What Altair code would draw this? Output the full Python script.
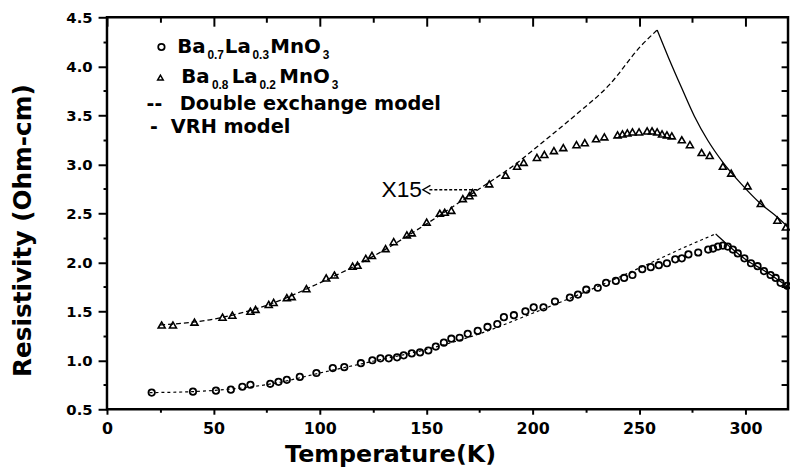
import altair as alt
import pandas as pd

# ---- measured data: Ba0.7La0.3MnO3 (circles) ----
circ_T = [21, 40.4, 51.2, 58.2, 63.6, 67.4, 76.7, 80.6, 84.5, 90.6, 98.4, 106.1, 111.5,
          119.3, 124.7, 128.5, 132.4, 136.3, 139.4, 143.2, 147.1, 151.0, 154.5, 158.3,
          161.8, 165.7, 169.5, 174.2, 178.8, 183.4, 186.5, 191.2, 196.6, 200.5, 205.1,
          210.5, 217.5, 221.3, 225.2, 230.6, 234.5, 239.1, 243.0, 246.9, 251.5, 255.5,
          259.3, 263.1, 267.0, 270.1, 273.2, 277.8, 282.5, 284.8, 287.1, 289.4, 291.7,
          294.1, 296.4, 299.5, 302.6, 305.7, 308.7, 311.8, 314.2, 316.5, 319.6]
circ_R = [0.67, 0.68, 0.69, 0.70, 0.73, 0.75, 0.76, 0.78, 0.80, 0.83, 0.87, 0.92, 0.93,
          0.97, 1.00, 1.02, 1.02, 1.03, 1.05, 1.07, 1.08, 1.10, 1.14, 1.18,
          1.22, 1.23, 1.27, 1.30, 1.34, 1.37, 1.44, 1.46, 1.50, 1.54, 1.54,
          1.60, 1.64, 1.67, 1.72, 1.74, 1.79, 1.81, 1.84, 1.87, 1.93, 1.95,
          1.97, 1.99, 2.03, 2.04, 2.08, 2.10, 2.13, 2.14, 2.16, 2.17, 2.16,
          2.13, 2.09, 2.04, 1.99, 1.96, 1.91, 1.87, 1.84, 1.79, 1.76]

# ---- measured data: Ba0.8La0.2MnO3 (triangles) ----
tri_T = [25.7, 31.0, 41.1, 54.3, 58.9, 67.4, 69.8, 76.0, 78.3, 84.5, 86.8, 93.7, 103.0,
         106.9, 115.4, 117.7, 121.6, 124.5, 130.9, 134.7, 140.9, 143.2, 150.2, 156.4,
         158.7, 161.8, 167.2, 170.3, 171.8, 179.6, 187.3, 192.7, 195.8, 202.0, 205.5,
         210.0, 214.4, 220.6, 224.5, 229.8, 233.7, 239.9, 242.2, 244.5, 246.9, 250.0,
         253.8, 256.1, 258.5, 260.8, 263.1, 265.4, 270.1, 273.9, 279.4, 283.2, 289.4,
         293.3, 301.0, 307.2, 315.0, 319.0]
tri_R = [1.36, 1.36, 1.39, 1.44, 1.46, 1.50, 1.52, 1.57, 1.59, 1.64, 1.65, 1.73, 1.84,
         1.87, 1.96, 1.97, 2.04, 2.07, 2.14, 2.21, 2.28, 2.30, 2.41, 2.50,
         2.51, 2.53, 2.65, 2.68, 2.71, 2.80, 2.89, 2.98, 3.02, 3.07, 3.10,
         3.14, 3.17, 3.20, 3.22, 3.26, 3.28, 3.30, 3.31, 3.32, 3.33, 3.33,
         3.34, 3.34, 3.33, 3.31, 3.30, 3.29, 3.25, 3.20, 3.12, 3.09, 2.98,
         2.91, 2.78, 2.60, 2.43, 2.36]

# ---- model curves ----
de_tri_T = [25, 50, 75, 100, 125, 150, 175, 190, 205, 220, 236, 251, 258.5]
de_tri_R = [1.36, 1.42, 1.56, 1.79, 2.06, 2.39, 2.75, 2.97, 3.23, 3.50, 3.81, 4.21, 4.37]
vrh_tri_T = [258.5, 264, 270, 276, 282.4, 289.4, 298, 307, 315, 320]
vrh_tri_R = [4.37, 4.08, 3.78, 3.49, 3.24, 3.02, 2.80, 2.60, 2.46, 2.36]
de_circ_T = [20, 40, 60, 80, 100, 125, 150, 175, 200, 225, 250, 270, 286]
de_circ_R = [0.67, 0.68, 0.71, 0.77, 0.87, 0.99, 1.11, 1.27, 1.48, 1.70, 1.94, 2.14, 2.29]
vrh_circ_T = [286, 289, 293, 297, 302, 307, 312, 316, 320]
vrh_circ_R = [2.29, 2.23, 2.15, 2.08, 2.00, 1.94, 1.87, 1.81, 1.75]

# ---- annotation (X15 arrow) ----
arrow_T = [151.5, 174.5]
arrow_R = [2.74, 2.74]
head_T = [150.2]
head_R = [2.74]
note_T = [148.0]
note_R = [2.665]
note_text = "X15"

# ---- ticks ----
x_major = [0, 50, 100, 150, 200, 250, 300]
x_minor = [25, 75, 125, 175, 225, 275]
y_major = [0.5, 1.0, 1.5, 2.0, 2.5, 3.0, 3.5, 4.0, 4.5]
y_minor = [0.75, 1.25, 1.75, 2.25, 2.75, 3.25, 3.75, 4.25]
y_right = [0.75, 1.0, 1.25, 1.5, 1.75, 2.0, 2.25, 2.5, 2.75, 3.0, 3.25, 3.5, 3.75, 4.0, 4.25]

x_title = "Temperature(K)"
y_title = "Resistivity (Ohm-cm)"

xs = alt.Scale(domain=[0, 320], nice=False, zero=False)
ys = alt.Scale(domain=[0.5, 4.5], nice=False, zero=False)

BF = "DejaVu Sans"


def tick_axis(orient, values, size, offset=0):
    return alt.Axis(orient=orient, values=values, tickSize=size, tickWidth=2,
                    tickColor="black", domain=False, grid=False, labels=False,
                    offset=offset, title=None)


ax_bottom = alt.Axis(orient="bottom", values=x_major, tickSize=5, tickWidth=2,
                     tickColor="black", domain=False, grid=False,
                     labelFont=BF, labelFontWeight="bold", labelFontSize=16,
                     labelColor="black", labelPadding=6, labelFlush=False,
                     labelOverlap=False,
                     title=x_title, titleFont=BF, titleFontWeight="bold",
                     titleFontSize=24, titleColor="black", titleX=286, titleY=53,
                     titleAlign="center", titleBaseline="alphabetic")
ax_left = alt.Axis(orient="left", values=y_major, format=".1f", tickSize=9,
                   tickWidth=2, tickColor="black", domain=False, grid=False,
                   labelFont=BF, labelFontWeight="bold", labelFontSize=15,
                   labelColor="black", labelPadding=6, labelFlush=False,
                   labelOverlap=False,
                   title=y_title, titleFont=BF, titleFontWeight="bold",
                   titleFontSize=25, titleColor="black", titleX=-85, titleY=215,
                   titleAngle=270, titleAlign="center", titleBaseline="middle")

circ_df = pd.DataFrame({"T": circ_T, "R": circ_R})
tri_df = pd.DataFrame({"T": tri_T, "R": tri_R})
de_tri_df = pd.DataFrame({"T": de_tri_T, "R": de_tri_R})
de_circ_df = pd.DataFrame({"T": de_circ_T, "R": de_circ_R})
vrh_df = pd.DataFrame({"T": vrh_tri_T + vrh_circ_T, "R": vrh_tri_R + vrh_circ_R,
                       "s": ["tri"] * len(vrh_tri_T) + ["circ"] * len(vrh_circ_T)})
arrow_df = pd.DataFrame({"T": arrow_T, "R": arrow_R})
head_df = pd.DataFrame({"T": head_T, "R": head_R})
note_df = pd.DataFrame({"T": note_T, "R": note_R})

de_tri = alt.Chart(de_tri_df).mark_line(color="black", strokeWidth=1.3, strokeDash=[5, 3],
                                         interpolate="monotone").encode(
    x=alt.X("T:Q", scale=xs, axis=tick_axis("top", x_major, 9, -9)),
    y=alt.Y("R:Q", scale=ys, axis=tick_axis("right", y_right, 7, -7)))
de_circ = alt.Chart(de_circ_df).mark_line(color="black", strokeWidth=1.2, strokeDash=[3, 3],
                                           interpolate="monotone").encode(
    x=alt.X("T:Q", scale=xs, axis=tick_axis("top", x_minor, 5, -5)),
    y=alt.Y("R:Q", scale=ys, axis=None))
vrh = alt.Chart(vrh_df).mark_line(color="black", strokeWidth=1.3,
                                  interpolate="monotone").encode(
    x=alt.X("T:Q", scale=xs, axis=None),
    y=alt.Y("R:Q", scale=ys, axis=None),
    detail="s:N")
circ = alt.Chart(circ_df).mark_point(shape="circle", filled=False, size=42, strokeWidth=1.8,
                                     color="black", opacity=1).encode(
    x=alt.X("T:Q", scale=xs, axis=ax_bottom),
    y=alt.Y("R:Q", scale=ys, axis=ax_left))
tri = alt.Chart(tri_df).mark_point(shape="triangle-up", filled=False, size=50,
                                   strokeWidth=1.6, color="black", opacity=1).encode(
    x=alt.X("T:Q", scale=xs, axis=tick_axis("bottom", x_minor, 3)),
    y=alt.Y("R:Q", scale=ys, axis=tick_axis("left", y_minor, 4)))
arrow = alt.Chart(arrow_df).mark_line(color="black", strokeWidth=1.3,
                                      strokeDash=[3, 2]).encode(
    x=alt.X("T:Q", scale=xs, axis=None), y=alt.Y("R:Q", scale=ys, axis=None))
head = alt.Chart(head_df).mark_point(shape="M0.85,-1L-0.85,0L0.85,1", filled=False, size=81,
                                     strokeWidth=1.4, color="black", opacity=1).encode(
    x=alt.X("T:Q", scale=xs, axis=None), y=alt.Y("R:Q", scale=ys, axis=None))
note = alt.Chart(note_df).mark_text(text=note_text, align="right", baseline="alphabetic",
                                    font="Liberation Sans", fontSize=23,
                                    color="black").encode(
    x=alt.X("T:Q", scale=xs, axis=None), y=alt.Y("R:Q", scale=ys, axis=None))

dummy = pd.DataFrame({"a": [1]})


def txt(s, x, y, size=20, font=BF):
    return alt.Chart(dummy).mark_text(text=s, align="left", baseline="alphabetic",
                                      font=font, fontSize=size, fontWeight="bold",
                                      color="black").encode(
        x=alt.value(x), y=alt.value(y))


def sub(s, x, y):
    return txt(s, x, y, size=12, font="Liberation Sans")


legend = [
    alt.Chart(dummy).mark_point(shape="circle", filled=False, size=42, strokeWidth=1.8,
                                color="black", opacity=1).encode(
        x=alt.value(55), y=alt.value(30)),
    txt("Ba", 71, 35.7), sub("0.7", 101.5, 42.3), txt("La", 119, 35.7),
    sub("0.3", 147, 42.3), txt("MnO", 165, 35.7), sub("3", 218, 42.3),
    alt.Chart(dummy).mark_point(shape="triangle-up", filled=False, size=32, strokeWidth=1.5,
                                color="black", opacity=1).encode(
        x=alt.value(54), y=alt.value(61)),
    txt("Ba", 75, 66.7), sub("0.8", 106, 72.3), txt("La", 126, 66.7),
    sub("0.2", 154, 72.3), txt("MnO", 174, 66.7), sub("3", 227, 72.3),
    txt("--", 40, 94, size=19), txt("Double exchange model", 73.5, 94, size=19.5),
    txt("-", 43.5, 116.5, size=19), txt("VRH model", 64.5, 116.5, size=19.5),
]

chart = alt.layer(de_tri, de_circ, vrh, arrow, head, note, circ, tri, *legend).resolve_axis(
    x="independent", y="independent"
).properties(
    width=688, height=396,
    padding={"left": 100, "top": 7, "right": 2, "bottom": 62},
    autosize=alt.AutoSizeParams(type="none"),
).configure_view(stroke="black", strokeWidth=2.5)

chart.save("out.html", embed_options={"renderer": "svg", "actions": False})
